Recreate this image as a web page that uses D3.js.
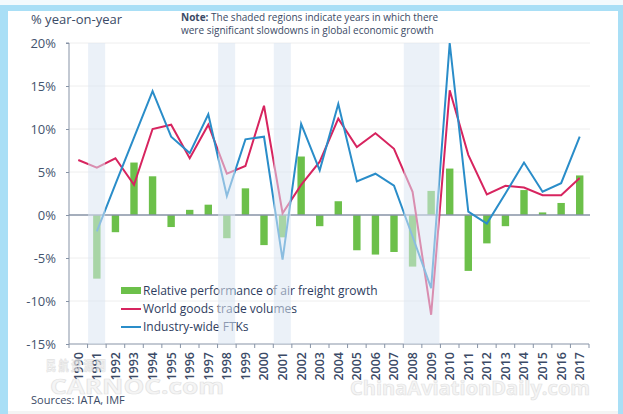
<!DOCTYPE html>
<html>
<head>
<meta charset="utf-8">
<script src="https://cdn.jsdelivr.net/npm/d3@7"></script>
<style>
    body { margin: 0; background: #fff; }
    svg { display: block; }
    text { font-family: "Open Sans", "Noto Sans", sans-serif; }
</style>
</head>
<body>
<script>
(function(){

//chart data
var years = ["1990","1991","1992","1993","1994","1995","1996","1997","1998","1999",
             "2000","2001","2002","2003","2004","2005","2006","2007","2008","2009",
             "2010","2011","2012","2013","2014","2015","2016","2017"];
var relativePerf = [null,-7.4,-2.0,6.1,4.5,-1.4,0.6,1.2,-2.7,3.1,
                    -3.5,-2.6,6.8,-1.3,1.6,-4.1,-4.6,-4.3,-6.0,2.8,
                    5.4,-6.5,-3.3,-1.3,2.9,0.3,1.4,4.6];
var tradeVolumes = [6.4,5.5,6.6,3.5,10.0,10.5,6.6,10.5,4.8,5.7,
                    12.7,0.2,3.5,6.2,11.2,7.9,9.5,7.7,2.7,-11.6,
                    14.5,7.0,2.4,3.4,3.2,2.3,2.3,4.3];
var industryFtks = [null,-1.9,3.6,9.0,14.4,9.1,7.2,11.7,2.2,8.8,
                    9.1,-5.2,10.6,5.2,12.9,3.9,4.8,3.4,-2.5,-8.5,
                    20.0,0.4,-1.0,2.5,6.1,2.7,3.7,9.1];
var slowdownYears = [["1991"], ["1998"], ["2001"], ["2008","2009"]];
var yTicks = [-15,-10,-5,0,5,10,15,20];
var legendLabels = ["Relative performance of air freight growth",
                    "World goods trade volumes",
                    "Industry-wide FTKs"];

var width = 623,
    height = 414;

var colors = {
    bar: "#6cc04a",
    trade: "#d7245f",
    ftk: "#2a8dc9",
    frame: "#a9dff6",
    text: "#3b4a66",
    axis: "#8793a6"
};

var svg = d3.select("body")
    .append("svg")
    .attr("width", width)
    .attr("height", height);

//white card with light blue frame
svg.append("rect").attr("width", width).attr("height", height).attr("fill", "#fff");
svg.append("rect").attr("x", 0).attr("y", 0).attr("width", width).attr("height", 5).attr("fill", "#f3fafd");
svg.append("rect").attr("x", 0).attr("y", 5).attr("width", width).attr("height", 6).attr("fill", colors.frame);
svg.append("rect").attr("x", 0).attr("y", 5).attr("width", 8).attr("height", height - 5).attr("fill", colors.frame);
svg.append("rect").attr("x", 618).attr("y", 5).attr("width", 5).attr("height", height - 5).attr("fill", colors.frame);
svg.append("rect").attr("x", 8).attr("y", 411).attr("width", 610).attr("height", 3).attr("fill", "#f4f4f4");

//scales
var x = d3.scaleBand()
    .domain(years)
    .range([69, 589])
    .padding(0);

var y = d3.scaleLinear()
    .domain([-15, 20])
    .range([344, 43]);

var cx = function(yr){ return x(yr) + x.bandwidth() / 2; };

//light grid lines
svg.selectAll(".grid")
    .data(yTicks.filter(function(d){ return d != -15 && d != 0; }))
    .enter()
    .append("line")
    .attr("class", "grid")
    .attr("x1", 69).attr("x2", 590)
    .attr("y1", function(d){ return y(d); })
    .attr("y2", function(d){ return y(d); })
    .attr("stroke", "#eeeeee")
    .attr("stroke-width", 1);

//bars
svg.selectAll(".bars")
    .data(years.map(function(yr, i){ return {year: yr, value: relativePerf[i]}; })
        .filter(function(d){ return d.value !== null; }))
    .enter()
    .append("rect")
    .attr("class", "bars")
    .attr("x", function(d){ return cx(d.year) - 3.7; })
    .attr("width", 7.4)
    .attr("y", function(d){ return y(Math.max(0, d.value)); })
    .attr("height", function(d){ return Math.abs(y(d.value) - y(0)); })
    .attr("fill", colors.bar);

//zero line
svg.append("line")
    .attr("x1", 69).attr("x2", 590)
    .attr("y1", y(0)).attr("y2", y(0))
    .attr("stroke", colors.axis)
    .attr("stroke-width", 1.4);

//lines
var line = d3.line()
    .defined(function(d){ return d.value !== null; })
    .x(function(d){ return cx(d.year); })
    .y(function(d){ return y(d.value); });

function series(vals){
    return years.map(function(yr, i){ return {year: yr, value: vals[i]}; });
}

svg.append("path")
    .datum(series(tradeVolumes))
    .attr("d", line)
    .attr("fill", "none")
    .attr("stroke", colors.trade)
    .attr("stroke-width", 2)
    .attr("stroke-linejoin", "miter");

svg.append("path")
    .datum(series(industryFtks))
    .attr("d", line)
    .attr("fill", "none")
    .attr("stroke", colors.ftk)
    .attr("stroke-width", 2)
    .attr("stroke-linejoin", "miter");

//y axis
var yAxis = svg.append("g")
    .attr("transform", "translate(69,0)")
    .call(d3.axisLeft(y).tickValues(yTicks).tickSize(3).tickFormat(function(d){ return d + "%"; }));
yAxis.select(".domain").attr("stroke", colors.axis).attr("d", "M-3," + y(20) + "H0V" + y(-15));
yAxis.selectAll(".tick line").attr("stroke", colors.axis);
yAxis.selectAll(".tick text")
    .attr("x", -13)
    .attr("fill", "#44546e")
    .style("font-size", "13px")
    .style("font-family", "'Open Sans', sans-serif");

//x axis
var xAxis = svg.append("g")
    .attr("transform", "translate(0," + y(-15) + ")");
xAxis.append("line")
    .attr("x1", 69).attr("x2", 589)
    .attr("stroke", colors.axis);
xAxis.selectAll(".xtick")
    .data(years.concat(["end"]))
    .enter()
    .append("line")
    .attr("class", "xtick")
    .attr("x1", function(d){ return d == "end" ? 589 : x(d); })
    .attr("x2", function(d){ return d == "end" ? 589 : x(d); })
    .attr("y1", 0).attr("y2", 4)
    .attr("stroke", colors.axis);
xAxis.selectAll(".xlabel")
    .data(years)
    .enter()
    .append("text")
    .attr("class", "xlabel")
    .attr("transform", function(d){ return "translate(" + cx(d) + ",8) rotate(-90)"; })
    .attr("text-anchor", "end")
    .attr("dy", "0.35em")
    .attr("fill", "#3b4a66")
    .style("font-size", "12.5px")
    .style("font-weight", 600)
    .text(function(d){ return d; });

//legend
var legend = svg.append("g").attr("transform", "translate(121,0)");
legend.append("rect")
    .attr("x", 0).attr("y", 287).attr("width", 20).attr("height", 7)
    .attr("fill", colors.bar);
legend.append("line")
    .attr("x1", 0).attr("x2", 20).attr("y1", 309).attr("y2", 309)
    .attr("stroke", colors.trade).attr("stroke-width", 2);
legend.append("line")
    .attr("x1", 0).attr("x2", 20).attr("y1", 327).attr("y2", 327)
    .attr("stroke", colors.ftk).attr("stroke-width", 2);
legend.selectAll(".legendText")
    .data(legendLabels)
    .enter()
    .append("text")
    .attr("class", "legendText")
    .attr("x", 22)
    .attr("y", function(d, i){ return 291 + i * 18; })
    .attr("dy", "0.35em")
    .attr("fill", "#2e3d60")
    .style("font-size", "12px")
    .text(function(d){ return d; });

//shaded slowdown years, drawn on top like the original
svg.selectAll(".shade")
    .data(slowdownYears)
    .enter()
    .append("rect")
    .attr("class", "shade")
    .attr("x", function(d){ return x(d[0]) + 0.5; })
    .attr("width", function(d){ return d.length * x.bandwidth() - 1.5; })
    .attr("y", y(20))
    .attr("height", y(-15) - y(20))
    .attr("fill", "#dbe6f2")
    .attr("opacity", 0.55);

//titles
svg.append("text")
    .attr("x", 31).attr("y", 24)
    .attr("fill", colors.text)
    .style("font-size", "13px")
    .text("% year-on-year");

var note = svg.append("text")
    .attr("x", 181).attr("y", 21)
    .attr("fill", colors.text)
    .style("font-size", "10px");
note.append("tspan").style("font-weight", 700).text("Note:");
note.append("tspan").text(" The shaded regions indicate years in which there");
svg.append("text")
    .attr("x", 181).attr("y", 34)
    .attr("fill", colors.text)
    .style("font-size", "10px")
    .text("were significant slowdowns in global economic growth");

svg.append("text")
    .attr("x", 31).attr("y", 404)
    .attr("fill", colors.text)
    .style("font-size", "11px")
    .text("Sources: IATA, IMF");

//faint watermarks
var marks = [
    {text: "民 航 资 源 网", x: 46, y: 370, size: 13, len: 60},
    {text: "CARNOC.com", x: 50, y: 394, size: 22, len: 174},
    {text: "ChinaAviationDaily.com", x: 350, y: 395, size: 19, len: 240}
];
svg.selectAll(".mark")
    .data(marks)
    .enter()
    .append("text")
    .attr("class", "mark")
    .attr("x", function(d){ return d.x; })
    .attr("y", function(d){ return d.y; })
    .attr("textLength", function(d){ return d.len; })
    .attr("lengthAdjust", "spacingAndGlyphs")
    .attr("fill", "#f2f2f2")
    .attr("stroke", "#d9d9d9")
    .attr("stroke-width", 0.7)
    .attr("opacity", 0.75)
    .style("font-size", function(d){ return d.size + "px"; })
    .style("font-weight", 700)
    .style("font-family", function(d){ return d.size == 13 ? "'Noto Sans CJK SC', sans-serif" : "'Open Sans', sans-serif"; })
    .text(function(d){ return d.text; });

})();
</script>
</body>
</html>
